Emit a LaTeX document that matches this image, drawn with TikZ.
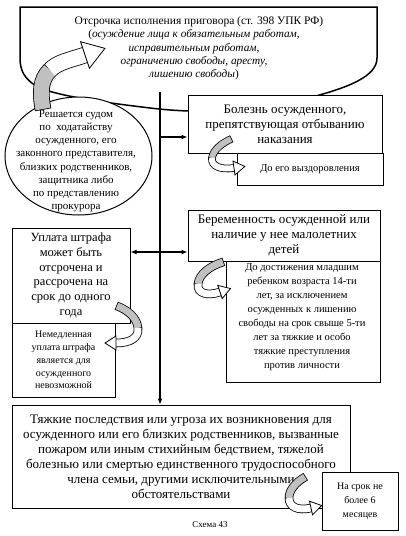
\documentclass[tikz,border=0pt]{standalone}
\usepackage{fontspec}
\setmainfont{Liberation Serif}
\usetikzlibrary{arrows.meta, decorations.markings, calc, shapes.geometric}
\definecolor{arrgray}{RGB}{192,192,192}
\tikzset{
  box/.style={draw, line width=1pt, fill=white, inner sep=0pt, align=center},
  lbl/.style={inner sep=0pt, align=center},
  conn/.style={line width=1.2pt},
  tipend/.style={-{Latex[length=6pt,width=5pt]}},
  tipboth/.style={{Latex[length=6pt,width=5pt]}-{Latex[length=6pt,width=5pt]}},
  fA/.style={font=\fontsize{13}{15}\selectfont},
  fB/.style={font=\fontsize{11}{13.2}\selectfont},
  fC/.style={font=\fontsize{10.5}{14}\selectfont},
  fD/.style={font=\fontsize{10}{12.8}\selectfont},
  bandout/.style={line width=#1+1.6pt, shorten <=-0.8pt},
  bandgrey/.style={line width=#1, draw=arrgray},
  bandwhite/.style={line width=#1, draw=white},
  bhead/.style 2 args={postaction={decorate}, decoration={markings,
     mark=at position 1 with {\filldraw[fill=white, draw=black, line width=0.8pt, line join=miter]
       (0pt,-#1) -- (#2,0pt) -- (0pt,#1) -- cycle;}}}
}
\begin{document}
\begin{tikzpicture}[x=1pt,y=-1pt]
\useasboundingbox (0,0) rectangle (406,536);
\fill[white] (0,0) rectangle (406,536);

% top document shape
\filldraw[fill=white, line width=1.5pt] (20,7) -- (377,7) -- (377,58)
  .. controls (377,76) and (350,88) .. (300,100)
  .. controls (250,112) and (200,114) .. (150,108)
  .. controls (100,102) and (60,96) .. (40,88)
  .. controls (24,80) and (20,70) .. (20,58) -- cycle;
\node[lbl, font=\fontsize{11.5}{13.2}\selectfont] (title) at (199,22) {Отсрочка исполнения приговора (ст. 398 УПК РФ)};
\node[lbl, font=\fontsize{11.3}{13.3}\selectfont] (sub) at (194,55) {(\textit{осуждение лица к обязательным работам,}\\
  \textit{исправительным работам,}\\
  \textit{ограничению свободы, аресту,}\\
  \textit{лишению свободы})};

% ellipse
\node[draw, ellipse, line width=1pt, fill=white, inner sep=0pt, minimum width=147pt, minimum height=118pt] (ell) at (78.5,156) {};
\node[lbl, fB] (elltext) at (76,161) {Решается судом\\ по\ \ ходатайству\\ осужденного, его\\ законного представителя,\\ близких родственников,\\ защитника либо\\ по представлению\\ прокурора};

% boxes
\node[box, fA, minimum width=194pt, minimum height=58pt] (bol) at (285,124)
  {Болезнь осужденного,\\ препятствующая отбыванию\\ наказания};
\node[box, fC, minimum width=146pt, minimum height=32pt] (vyzd) at (310,169)
  {До его выздоровления};
\node[box, font=\fontsize{12.5}{14.7}\selectfont, minimum width=118pt, minimum height=95pt] (upl) at (71,275.5)
  {Уплата штрафа\\ может быть\\ отсрочена и\\ рассрочена на\\ срок до одного\\ года};
\node[box, fD, minimum width=103pt, minimum height=74pt] (nemed) at (63.5,360)
  {Немедленная\\ уплата штрафа\\ является для\\ осужденного\\ невозможной};
\node[box, fA, minimum width=192pt, minimum height=51pt] (ber) at (284,235.5)
  {Беременность осужденной или\\ наличие у нее малолетних\\ детей};
\node[box, minimum width=154pt, minimum height=121pt] (dost) at (303,321.5) {};
\node[lbl, fC] (dosttext) at (302,317) {До достижения младшим\\ ребенком возраста 14-ти\\ лет, за исключением\\ осужденных к лишению\\ свободы на срок свыше 5-ти\\ лет за тяжкие и особо\\ тяжкие преступления\\ против личности};
\node[box, fA, minimum width=338pt, minimum height=103pt] (big) at (181,456.5)
  {Тяжкие последствия или угроза их возникновения для\\ осужденного или его близких родственников, вызванные\\ пожаром или иным стихийным бедствием, тяжелой\\ болезнью или смертью единственного трудоспособного\\ члена семьи, другими исключительными\\ обстоятельствами};
\node[box, font=\fontsize{10}{14}\selectfont, minimum width=76pt, minimum height=58pt] (srok) at (360,501)
  {На срок не\\ более 6\\ месяцев};
\node[lbl, font=\fontsize{9}{11}\selectfont] (cap) at (210,525) {Схема 43};

% connectors
\coordinate (vtop) at (160,92);
\draw[conn, tipend] (vtop) -- (vtop |- big.north);
\coordinate (b1) at (160,137);
\draw[conn, tipend] (b1) -- (b1 -| bol.west);
\coordinate (d1) at (160,252);
\draw[conn, tipboth] (d1 -| upl.east) -- (d1 -| ber.west);

% big curved arrow (ellipse -> top)
\draw[bandout=15pt] (43,109) .. controls (40,93) and (40,80) .. (50,70) .. controls (58,62) and (70,60) .. (85,55);
\draw[bandgrey=15pt] (43,109) .. controls (40,93) and (40,80) .. (50,70);
\draw[bandwhite=15pt] (50,70) .. controls (58,62) and (70,60) .. (85,55);
\path[bhead={14pt}{21pt}] (50,70) .. controls (58,62) and (70,60) .. (85,55);

% bolezn arrow
\draw[bandout=6pt] (231,139) .. controls (222,143) and (213,150) .. (212,158) .. controls (211,166) and (220,170) .. (234,168);
\draw[bandgrey=6pt] (231,139) .. controls (222,143) and (213,150) .. (212,158);
\draw[bandwhite=6pt] (212,158) .. controls (211,166) and (220,170) .. (234,168);
\path[bhead={7pt}{11pt}] (212,158) .. controls (211,166) and (220,170) .. (234,168);

% uplata arrow
\draw[bandout=7pt] (117,306) .. controls (128,310) and (137,318) .. (138,328) .. controls (139,338) and (130,343) .. (116,343);
\draw[bandgrey=7pt] (117,306) .. controls (128,310) and (137,318) .. (138,328);
\draw[bandwhite=7pt] (138,328) .. controls (139,338) and (130,343) .. (116,343);
\path[bhead={7pt}{11pt}] (138,328) .. controls (139,338) and (130,343) .. (116,343);

% beremennost arrow
\draw[bandout=7pt] (223,262) .. controls (210,266) and (199,274) .. (198,284) .. controls (197,294) and (208,296) .. (220,292);
\draw[bandgrey=7pt] (223,262) .. controls (210,266) and (199,274) .. (198,284);
\draw[bandwhite=7pt] (198,284) .. controls (197,294) and (208,296) .. (220,292);
\path[bhead={7pt}{11pt}] (198,284) .. controls (197,294) and (208,296) .. (220,292);

% bottom arrow
\draw[bandout=7pt] (305,477) .. controls (296,482) and (289,490) .. (289,498) .. controls (289,507) and (298,511) .. (311,508);
\draw[bandgrey=7pt] (305,477) .. controls (296,482) and (289,490) .. (289,498);
\draw[bandwhite=7pt] (289,498) .. controls (289,507) and (298,511) .. (311,508);
\path[bhead={7pt}{11pt}] (289,498) .. controls (289,507) and (298,511) .. (311,508);
\end{tikzpicture}
\end{document}
